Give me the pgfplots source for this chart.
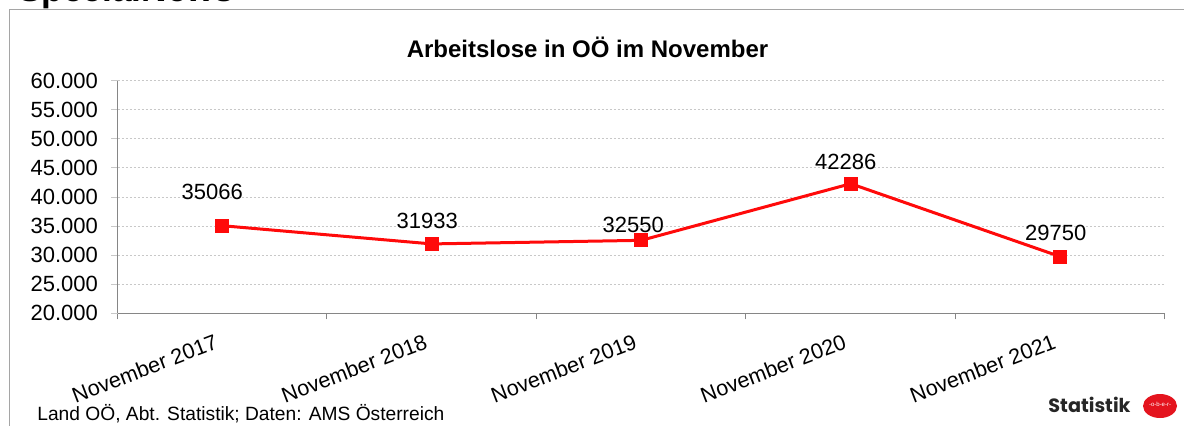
\documentclass[border=0pt]{standalone}
\usepackage{pgfplots}
\pgfplotsset{compat=1.18}
\usepackage{pgfplotstable}
\usepackage{fontspec}
\setmainfont{Liberation Sans}
\newfontfamily\logofont{Poppins}

\definecolor{linered}{RGB}{255,10,10}
\definecolor{gridgray}{RGB}{200,200,200}
\definecolor{axisgray}{RGB}{134,134,134}
\definecolor{framegray}{RGB}{165,165,165}
\definecolor{logored}{RGB}{228,20,30}

% x = category index, dx/dy = label offset (pt)
\pgfplotstableread{
x y dx dy label
0 35066 -5 17 35066
1 31933 -2.25 11.5 31933
2 32550 -4 7.5 32550
3 42286 -2.5 10.85 42286
4 29750 -2.25 11.65 29750
}\datatable

\begin{document}
\begin{tikzpicture}
\path[clip, use as bounding box] (0,0) rectangle (592pt,-212.5pt);

% frame and header
\draw[framegray, line width=0.6pt] (4.7pt,-213pt) -- (4.7pt,-4.85pt) -- (593pt,-4.85pt);
\node[anchor=base west, inner sep=0, font=\bfseries\fontsize{17.6}{20}\selectfont] at (9pt,-0.75pt) {SpecialNews};

\node[anchor=base, inner sep=0, font=\bfseries\fontsize{12}{14}\selectfont] at (293.75pt,-28.65pt) {Arbeitslose in OÖ im November};

\begin{axis}[
    at={(58.75pt,-156.65pt)}, anchor=south west,
    scale only axis, width=523.75pt, height=116.3pt,
    xmin=-0.5, xmax=4.5, ymin=20000, ymax=60000,
    xtick={0,...,4},
    xticklabels={November 2017,November 2018,November 2019,November 2020,November 2021},
    minor xtick={-0.5,0.5,1.5,2.5,3.5,4.5},
    ytick={20000,25000,...,60000},
    scaled y ticks=false,
    axis x line*=bottom, axis y line*=left,
    axis line style={axisgray, line width=0.75pt},
    tick align=outside,
    major tick length=3pt, minor tick length=3pt,
    major x tick style={draw=none},
    minor x tick style={draw=axisgray, line width=0.5pt},
    ytick style={draw=gridgray, line width=0.5pt},
    ymajorgrids,
    grid style={gridgray, line width=0.5pt, dash pattern=on 1pt off 1pt},
    /pgf/number format/assume math mode=true,
    yticklabel style={/pgf/number format/.cd, fixed, 1000 sep={.}, /tikz/.cd,
        anchor=east, inner sep=0pt, xshift=-6.6pt, font=\fontsize{11}{13}\selectfont},
    xticklabel style={xshift=-4.2pt, yshift=-6.8pt, rotate=21, anchor=north east,
        inner sep=0pt, font=\fontsize{10.8}{12}\selectfont},
    clip=false,
    point meta=explicit symbolic,
    visualization depends on={\thisrow{dx} \as \dx},
    visualization depends on={\thisrow{dy} \as \dy},
    nodes near coords,
    every node near coord/.append style={anchor=center, inner sep=0pt,
        xshift=\dx pt, yshift=\dy pt, text=black, font=\fontsize{11}{13}\selectfont},
]
\addplot[linered, line width=1.5pt, mark=square*, mark size=3.25pt,
    mark options={fill=linered, draw=linered, line width=0pt}]
    table[x=x, y=y, meta=label] {\datatable};
\end{axis}

% footer
\node[anchor=base west, inner sep=0, font=\fontsize{9.6}{11}\selectfont] at (18.5pt,-210pt) {Land OÖ, Abt. Statistik; Daten: AMS Österreich};
\node[anchor=base west, inner sep=0, font=\logofont\fontsize{9.6}{11}\selectfont, text=black!85] at (524pt,-206.3pt) {\textbf{Statistik}};
\fill[logored] (580pt,-203pt) ellipse [x radius=8.5pt, y radius=6pt];
\node[inner sep=0, text=white, font=\fontsize{3}{3}\selectfont] at (580pt,-202pt) {-o-b-e-r-};
\end{tikzpicture}
\end{document}
